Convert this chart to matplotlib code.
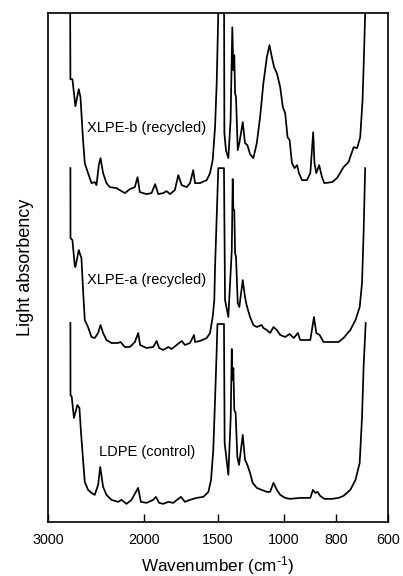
import numpy as np
import matplotlib
matplotlib.use("Agg")
import matplotlib.pyplot as plt

plt.rcParams['font.family'] = ['Liberation Sans', 'DejaVu Sans']
plt.rcParams['mathtext.default'] = 'regular'

# Wavenumber axis (cm-1) is drawn with a non-uniform scale, as in the original
tick_wn = [3000, 2000, 1500, 1000, 800, 600]
tick_pos = [0, 95.7, 169.7, 235.7, 287.4, 339.4]

# XLPE-b (recycled) - top trace
wn_b = [2770, 2766, 2745, 2714, 2679, 2661, 2634, 2616, 2582, 2546, 2512, 2494, 2470, 2452,
        2425, 2390, 2355, 2285, 2251, 2198, 2146, 2094, 2066, 2042, 1982, 1948, 1924, 1903,
        1870, 1847, 1824, 1791, 1768, 1745, 1711, 1689, 1667, 1655, 1622, 1576, 1554, 1536,
        1520, 1509, 1498, 1495, 1455, 1452, 1440, 1422, 1405, 1392, 1384, 1377, 1371, 1364,
        1351, 1339, 1313, 1296, 1278, 1258, 1233, 1207, 1182, 1157, 1131, 1111, 1093, 1076,
        1055, 1030, 1010, 996, 987, 979, 970, 960, 950, 943, 931, 912, 899, 888, 883, 876,
        865, 854, 845, 815, 796, 771, 752, 732, 719, 707, 698, 692, 688, 686]
ab_b = [5.6, 4.43, 4.43, 4.16, 4.33, 4.25, 3.82, 3.59, 3.49, 3.39, 3.40, 3.37, 3.57, 3.64,
        3.49, 3.39, 3.35, 3.34, 3.32, 3.29, 3.33, 3.35, 3.45, 3.30, 3.28, 3.29, 3.38, 3.28,
        3.29, 3.31, 3.28, 3.32, 3.47, 3.37, 3.35, 3.39, 3.52, 3.39, 3.39, 3.42, 3.49, 3.62,
        3.95, 4.39, 5.09, 5.6, 5.6, 3.89, 3.72, 3.64, 4.02, 4.95, 4.52, 4.67, 4.29, 4.25,
        3.72, 3.79, 4.00, 3.79, 3.77, 3.68, 3.64, 3.79, 4.05, 4.39, 4.65, 4.77, 4.65, 4.55,
        4.49, 4.35, 4.15, 4.09, 3.85, 3.82, 3.59, 3.54, 3.57, 3.49, 3.42, 3.42, 3.49, 3.90,
        3.59, 3.49, 3.57, 3.45, 3.39, 3.40, 3.44, 3.55, 3.60, 3.75, 3.74, 3.85, 4.22, 4.72,
        5.09, 5.6]

# XLPE-a (recycled) - middle trace
wn_a = [2766, 2765, 2745, 2721, 2714, 2679, 2669, 2651, 2634, 2616, 2582, 2546, 2512, 2477,
        2452, 2425, 2390, 2338, 2268, 2244, 2198, 2146, 2094, 2059, 2039, 1982, 1937, 1914,
        1897, 1870, 1835, 1813, 1779, 1745, 1723, 1689, 1662, 1655, 1622, 1576, 1554, 1536,
        1525, 1520, 1509, 1498, 1455, 1447, 1422, 1396, 1389, 1384, 1377, 1371, 1364, 1351,
        1339, 1313, 1296, 1284, 1258, 1233, 1207, 1170, 1157, 1131, 1106, 1081, 1055, 1030,
        996, 979, 963, 947, 938, 899, 885, 876, 863, 848, 809, 790, 771, 745, 725, 709, 700,
        694, 688]
ab_a = [3.54, 2.84, 2.82, 2.57, 2.55, 2.72, 2.69, 2.64, 2.32, 2.02, 1.95, 1.85, 1.84, 1.89,
        1.97, 1.89, 1.82, 1.79, 1.79, 1.80, 1.75, 1.75, 1.80, 1.89, 1.77, 1.74, 1.75, 1.81,
        1.74, 1.72, 1.75, 1.73, 1.77, 1.81, 1.77, 1.79, 1.87, 1.80, 1.81, 1.84, 1.89, 2.05,
        2.22, 2.55, 3.05, 3.54, 3.54, 2.22, 2.05, 2.72, 3.43, 3.12, 3.12, 2.69, 2.65, 2.19,
        2.15, 2.42, 2.25, 2.17, 2.05, 1.97, 1.95, 1.97, 1.94, 1.92, 1.89, 1.95, 1.92, 1.87,
        1.85, 1.88, 1.84, 1.89, 1.82, 1.82, 2.05, 1.89, 1.87, 1.80, 1.80, 1.80, 1.84, 1.92,
        2.02, 2.15, 2.39, 2.89, 3.54]

# LDPE (control) - bottom trace
wn_c = [2766, 2765, 2752, 2729, 2693, 2672, 2655, 2634, 2616, 2582, 2546, 2512, 2477, 2455,
        2425, 2390, 2338, 2268, 2233, 2181, 2129, 2060, 2031, 1982, 1937, 1919, 1897, 1870,
        1835, 1802, 1768, 1750, 1723, 1689, 1644, 1599, 1565, 1547, 1532, 1520, 1509, 1504,
        1455, 1450, 1422, 1404, 1396, 1392, 1384, 1377, 1367, 1354, 1341, 1313, 1296, 1278,
        1258, 1238, 1207, 1170, 1131, 1106, 1081, 1055, 1030, 996, 977, 938, 899, 889, 880,
        871, 861, 845, 815, 790, 771, 745, 725, 709, 700, 694, 686]
ab_c = [1.99, 1.27, 1.25, 1.04, 1.17, 1.14, 0.89, 0.62, 0.40, 0.32, 0.29, 0.27, 0.37, 0.55,
        0.35, 0.27, 0.22, 0.20, 0.22, 0.18, 0.22, 0.34, 0.20, 0.19, 0.22, 0.25, 0.19, 0.18,
        0.20, 0.19, 0.23, 0.25, 0.20, 0.22, 0.24, 0.25, 0.30, 0.42, 0.72, 1.22, 1.72, 1.98,
        1.98, 0.79, 0.47, 1.05, 1.73, 1.42, 1.54, 1.12, 1.09, 0.65, 0.57, 0.87, 0.62, 0.57,
        0.49, 0.39, 0.34, 0.32, 0.30, 0.30, 0.39, 0.32, 0.27, 0.24, 0.23, 0.24, 0.24, 0.32,
        0.29, 0.30, 0.26, 0.23, 0.23, 0.24, 0.26, 0.32, 0.42, 0.59, 1.05, 1.55, 1.99]

labels = ['XLPE-b (recycled)', 'XLPE-a (recycled)', 'LDPE (control)']
label_wn = [1980, 1980, 1975]
label_ab = [3.94, 2.42, 0.70]

wr = np.array(tick_wn[::-1], dtype=float)
pr = tick_pos[-1] - np.array(tick_pos[::-1], dtype=float)


def fwd(w):
    return np.interp(w, wr, pr)


def inv(p):
    return np.interp(p, pr, wr)


fig = plt.figure(figsize=(4.03, 5.76), dpi=100)
ax = fig.add_axes([0.119, 0.094, 0.844, 0.883])
ax.set_xscale('function', functions=(fwd, inv))

for wn, ab in [(wn_b, ab_b), (wn_a, ab_a), (wn_c, ab_c)]:
    ax.plot(wn, ab, color='black', linewidth=1.25)

for txt, xw, ya in zip(labels, label_wn, label_ab):
    ax.text(xw, ya, txt, ha='center', va='center', fontsize=10.5)

ax.set_xlim(3000, 600)
ax.set_ylim(0, 5.09)
ax.set_xticks(tick_wn)
ax.set_xticklabels([str(t) for t in tick_wn])
ax.minorticks_off()
ax.set_yticks([])
ax.tick_params(axis='x', direction='in', length=6, width=1, pad=8, labelsize=10.3)
for s in ax.spines.values():
    s.set_linewidth(1.2)

ax.set_xlabel(r'Wavenumber (cm$^{\text{-}1}$)', fontsize=12.3, labelpad=5)
ax.set_ylabel('Light absorbency', fontsize=13, labelpad=10)

fig.savefig('out.png', dpi=100)
